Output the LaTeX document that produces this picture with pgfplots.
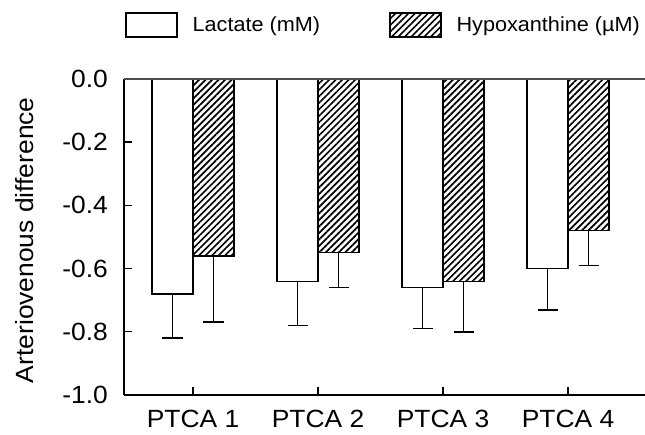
\documentclass[border=0pt]{standalone}
\usepackage{fontspec}
\setmainfont{Liberation Sans}[FakeStretch=1.06]
\usepackage{pgfplots}
\pgfplotsset{compat=1.18}
\usetikzlibrary{patterns.meta}

\begin{document}
\begin{tikzpicture}
\useasboundingbox (0,0) rectangle (645bp,435bp);
\begin{axis}[
  at={(124bp,40bp)}, anchor=south west,
  scale only axis,
  width=521bp, height=316bp,
  xmin=0.448, xmax=4.616,
  ymin=-1, ymax=0,
  axis x line*=bottom, axis y line*=left,
  axis line style={-, line width=1.4bp, black},
  ybar=0pt, bar width=41bp,
  xtick={1,2,3,4},
  xticklabels={PTCA 1, PTCA 2, PTCA 3, PTCA 4},
  ytick={-1,-0.8,-0.6,-0.4,-0.2,0},
  tick align=inside,
  major tick length=8bp,
  tick style={line width=1.4bp, black},
  /pgf/number format/assume math mode=true,
  yticklabel={\pgfmathprintnumber[fixed, fixed zerofill, precision=1]{\tick}},
  ticklabel style={font=\fontsize{25}{29}\selectfont},
  yticklabel style={inner sep=0pt, anchor=east, xshift=-16bp},
  xticklabel style={inner sep=0pt, anchor=north, yshift=-15bp},
  ylabel={Arteriovenous difference},
  ylabel style={at={(axis description cs:-0.19,0.49)}, anchor=center,
    font=\fontsize{25}{29}\selectfont},
  legend columns=2,
  legend style={
    at={(axis description cs:0.002,1.212)}, anchor=north west,
    draw=none, fill=none, inner sep=0pt,
    font=\fontsize{20.5}{24}\selectfont,
    nodes={inner sep=0pt},
    /tikz/every odd column/.append style={column sep=15bp},
    /tikz/every even column/.append style={column sep=69bp},
  },
  error bars/y dir=minus,
  error bars/y explicit,
  error bars/error bar style={line width=1.7bp, black},
  error bars/error mark options={line width=1.7bp, black, mark size=10bp, rotate=90},
]
% Lactate (mM): mean and lower SD
\addplot[fill=white, draw=black, line width=1.4bp,
  legend image code/.code={\draw[fill=white, draw=black, line width=1.4bp] (0bp,-12bp) rectangle (51bp,12bp);}]
  coordinates {
    (1,-0.68) -= (0,0.14)
    (2,-0.64) -= (0,0.14)
    (3,-0.66) -= (0,0.13)
    (4,-0.60) -= (0,0.13)
  };
% Hypoxanthine (uM): mean and lower SD
\addplot[draw=black, line width=1.4bp,
  pattern={Lines[angle=45, distance=4.6bp, line width=1.7bp]}, pattern color=black,
  legend image code/.code={\draw[draw=black, line width=1.4bp,
     pattern={Lines[angle=45, distance=4.6bp, line width=1.7bp]}, pattern color=black] (0bp,-12bp) rectangle (51bp,12bp);}]
  coordinates {
    (1,-0.56) -= (0,0.21)
    (2,-0.55) -= (0,0.11)
    (3,-0.64) -= (0,0.16)
    (4,-0.48) -= (0,0.11)
  };
\legend{Lactate (mM), Hypoxanthine (µM)}
\draw[gray!60!black, line width=1.3bp] (rel axis cs:0,1) -- (rel axis cs:1,1);
\end{axis}
\end{tikzpicture}
\end{document}
